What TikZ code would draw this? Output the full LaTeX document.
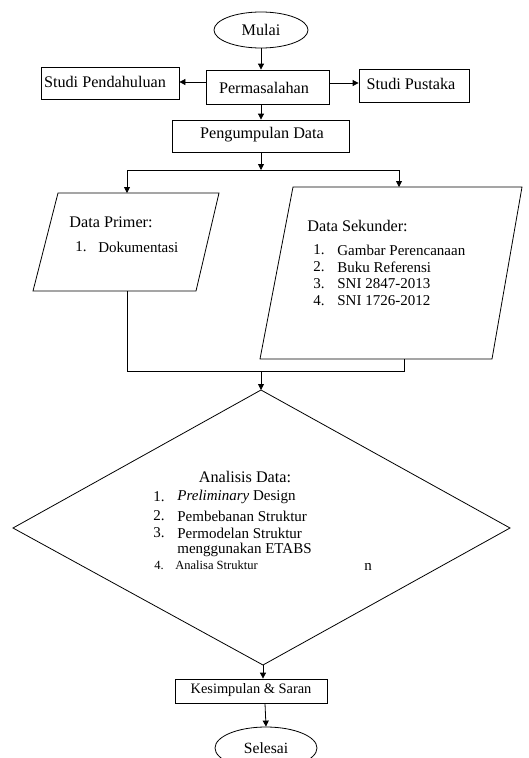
\documentclass[tikz,border=0pt]{standalone}
\usepackage{fontspec}
\setmainfont{Liberation Serif}
\usetikzlibrary{arrows.meta,shapes.geometric}
\begin{document}
\begin{tikzpicture}[x=1pt,y=-1pt,
  every node/.style={font=\fontsize{15}{18}\selectfont, inner sep=0pt},
  big/.style={font=\fontsize{16.2}{19}\selectfont},
  line width=0.8pt,
  arr/.style={-{Triangle[length=6pt,width=6pt]}},
  boxnode/.style={draw, rectangle, line width=0.8pt},
  ovalnode/.style={draw, ellipse, line width=0.8pt},
  txt/.style={anchor=west},
  small/.style={anchor=west, font=\fontsize{12.5}{15}\selectfont}]
\useasboundingbox (0,0) rectangle (529,758);

% top
\node[ovalnode, minimum width=94pt, minimum height=36pt] (mulai) at (261,30) {};
\node[big] (mulait) at (261,30) {Mulai};
\node[boxnode, minimum width=123pt, minimum height=34pt] (perm) at (267.5,87) {};
\node[big] (permt) at (264,88) {Permasalahan};
\node[boxnode, minimum width=138pt, minimum height=32pt] (pend) at (110,83) {};
\node[big] (pendt) at (105,82) {Studi Pendahuluan};
\node[boxnode, minimum width=110pt, minimum height=33pt] (pust) at (414,85.5) {};
\node[big] (pustt) at (411,84) {Studi Pustaka};
\node[boxnode, minimum width=177pt, minimum height=32pt] (peng) at (260.5,136) {};
\node[big] (pengt) at (262,135) {Pengumpulan Data};

\draw[arr] (mulai.south -| 261,0) -- (perm.north -| 261,0);
\draw[arr] (perm.west |- 0,82) -- (pend.east |- 0,82);
\draw[arr] (perm.east |- 0,83) -- (pust.west |- 0,83);
\draw[arr] (perm.south -| 261,0) -- (peng.north -| 261,0);

% split
\coordinate (split) at (261,170);
\coordinate (splitL) at (127,170);
\coordinate (splitR) at (399,170);
\draw[arr] (peng.south -| 261,0) -- (split);

% Data Primer parallelogram
\coordinate (dp1) at (58,193);
\coordinate (dp2) at (219,193);
\coordinate (dp3) at (196,291);
\coordinate (dp4) at (33,291);
\draw (dp1) -- (dp2) -- (dp3) -- (dp4) -- cycle;
\coordinate (dptop) at (127,193);
\coordinate (dpbot) at (127,291);

% Data Sekunder parallelogram
\coordinate (ds1) at (293,187);
\coordinate (ds2) at (522,187);
\coordinate (ds3) at (492,359);
\coordinate (ds4) at (260,359);
\draw (ds1) -- (ds2) -- (ds3) -- (ds4) -- cycle;
\coordinate (dstop) at (399,187);
\coordinate (dsbot) at (404,359);

\draw (splitL) -- (splitR);
\draw[arr] (splitL) -- (dptop);
\draw[arr] (splitR) -- (dstop);

\node[txt, big] (dpt) at (69,222) {Data Primer:};
\node[txt] (dpn1) at (75,247) {1.};
\node[txt] (dpi1) at (98,247) {Dokumentasi};

\node[txt, big] (dst) at (307,226) {Data Sekunder:};
\node[txt] (dsn1) at (313,250) {1.};
\node[txt] (dsi1) at (337,250) {Gambar Perencanaan};
\node[txt] (dsn2) at (313,267) {2.};
\node[txt] (dsi2) at (337,267) {Buku Referensi};
\node[txt] (dsn3) at (313,284) {3.};
\node[txt] (dsi3) at (337,284) {SNI 2847-2013};
\node[txt] (dsn4) at (313,301) {4.};
\node[txt] (dsi4) at (337,301) {SNI 1726-2012};

% merge
\coordinate (mL) at (127,371);
\coordinate (mR) at (404,371);
\coordinate (mC) at (261,371);
\draw (dpbot) -- (mL) -- (mR) -- (dsbot);

% diamond
\coordinate (dT) at (261,390);
\coordinate (dR) at (510,528);
\coordinate (dB) at (263,665);
\coordinate (dL) at (13,528);
\draw (dT) -- (dR) -- (dB) -- (dL) -- cycle;
\draw[arr] (mC) -- (dT);

\node[big] (adt) at (245,477) {Analisis Data:};
\node[txt] (an1) at (153,497) {1.};
\node[txt] (ai1) at (177,497) {\textit{Preliminary} Design};
\node[txt] (an2) at (153,516) {2.};
\node[txt] (ai2) at (177,516) {Pembebanan Struktur};
\node[txt] (an3) at (153,533) {3.};
\node[txt] (ai3) at (177,533) {Permodelan Struktur};
\node[txt] (ai3b) at (177,550) {menggunakan ETABS};
\node[small] (an4) at (154,565) {4.};
\node[small] (ai4) at (175,565) {Analisa Struktur};
\node (nn) at (368,567) {n};

% bottom
\node[boxnode, minimum width=152pt, minimum height=24pt] (kes) at (251,691) {};
\node[font=\fontsize{14.4}{17}\selectfont] (kest) at (251,690) {Kesimpulan \& Saran};
\draw[arr] (dB) -- (kes.north -| dB);
\node[ovalnode, minimum width=102pt, minimum height=42pt] (sel) at (266,748) {};
\node[font=\fontsize{15.6}{18}\selectfont] (selt) at (266,748) {Selesai};
\draw[arr] (kes.south -| 265,0) -- (sel.north);
\end{tikzpicture}
\end{document}
